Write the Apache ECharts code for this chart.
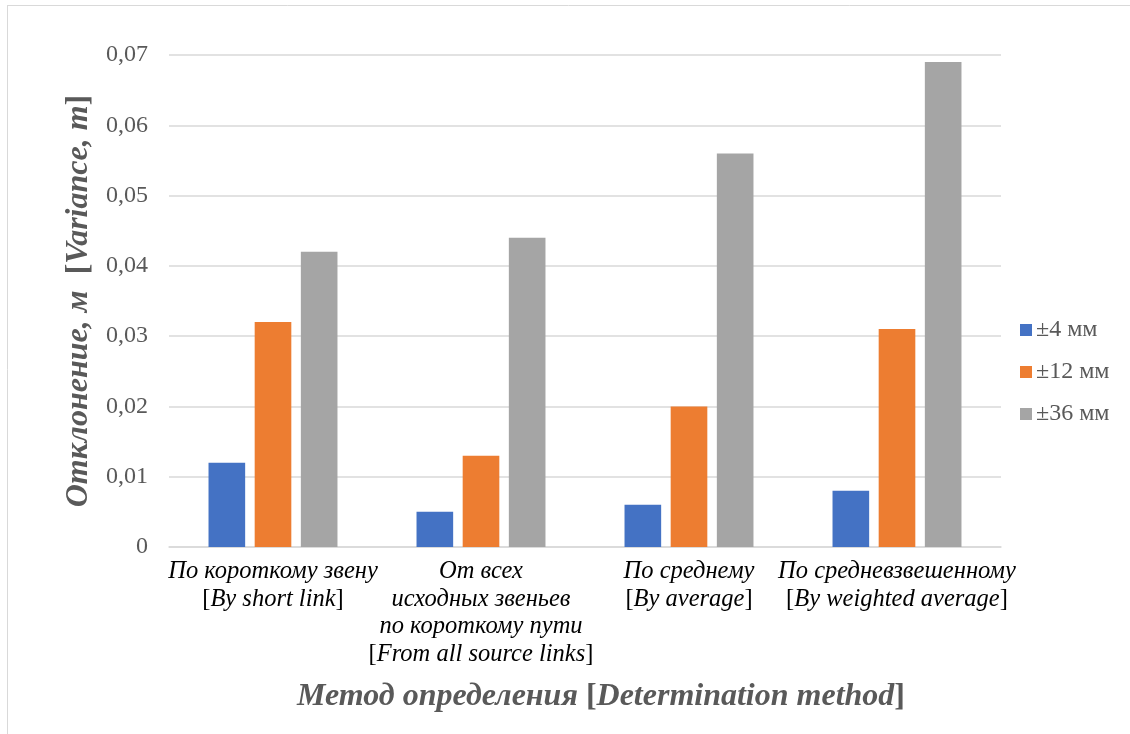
<!DOCTYPE html>
<html>
<head>
<meta charset="utf-8">
<script src="https://cdn.jsdelivr.net/npm/echarts@6/dist/echarts.min.js"></script>
<style>
  html, body { margin: 0; padding: 0; background: #fff; }
  #chart { width: 1130px; height: 734px; }
</style>
</head>
<body>
<div id="chart"></div>
<script>
// Method names: Russian lines (italic) and English gloss (in brackets)
const categoryRu = [
  ['По короткому звену'],
  ['От всех', 'исходных звеньев', 'по короткому пути'],
  ['По среднему'],
  ['По средневзвешенному']
];
const categoryEn = ['By short link', 'From all source links', 'By average', 'By weighted average'];

const seriesNames = ['±4 мм', '±12 мм', '±36 мм'];
const values4 = [0.012, 0.005, 0.006, 0.008];
const values12 = [0.032, 0.013, 0.020, 0.031];
const values36 = [0.042, 0.044, 0.056, 0.069];

const colors = ['#4472C4', '#ED7D31', '#A5A5A5'];
const serif = '"Liberation Serif", "DejaVu Serif", serif';
const grey = '#595959';

const categories = categoryRu.map((_, i) => String(i));

const chart = echarts.init(document.getElementById('chart'));

chart.setOption({
  animation: false,
  backgroundColor: '#fff',
  color: colors,
  graphic: [
    { type: 'line', shape: { x1: 7, y1: 5.5, x2: 1130, y2: 5.5 }, style: { stroke: '#d9d9d9', lineWidth: 1 } },
    { type: 'line', shape: { x1: 7.5, y1: 5, x2: 7.5, y2: 734 }, style: { stroke: '#d9d9d9', lineWidth: 1 } }
  ],
  grid: { left: 169, right: 129, top: 55, bottom: 187 },
  legend: {
    orient: 'vertical',
    left: 1015,
    top: 313,
    itemWidth: 12,
    itemHeight: 12,
    itemGap: 18,
    icon: 'rect',
    data: seriesNames,
    textStyle: { fontFamily: serif, fontSize: 24, color: grey, padding: [0, 0, 0, -1] }
  },
  xAxis: {
    type: 'category',
    data: categories,
    axisLine: { lineStyle: { color: '#d9d9d9', width: 1.5 } },
    axisTick: { show: false },
    axisLabel: {
      interval: 0,
      margin: 11,
      color: '#000',
      formatter: (v) => {
        const i = Number(v);
        const lines = categoryRu[i].map(s => '{i|' + s + '}');
        lines.push('{u|[}{i|' + categoryEn[i] + '}{u|]}');
        return lines.join('\n');
      },
      rich: {
        i: { fontFamily: serif, fontStyle: 'italic', fontSize: 24.5, color: '#000', lineHeight: 27.5 },
        u: { fontFamily: serif, fontSize: 24.5, color: '#000', lineHeight: 27.5 }
      }
    },
    name: '{bi|Метод определения }{b|[}{bi|Determination method}{b|]}',
    nameLocation: 'middle',
    nameGap: 134,
    nameTextStyle: {
      padding: [0, 0, 0, 32],
      rich: {
        bi: { fontFamily: serif, fontStyle: 'italic', fontWeight: 'bold', fontSize: 32, color: grey },
        b: { fontFamily: serif, fontWeight: 'bold', fontSize: 32, color: grey }
      }
    }
  },
  yAxis: {
    type: 'value',
    min: 0,
    max: 0.07,
    interval: 0.01,
    axisLine: { show: false },
    axisTick: { show: false },
    splitLine: { lineStyle: { color: '#d9d9d9', width: 1.5 } },
    axisLabel: {
      margin: 21,
      fontFamily: serif,
      fontSize: 24,
      color: grey,
      formatter: (v) => v === 0 ? '0' : v.toFixed(2).replace('.', ',')
    },
    name: '{bi|Отклонение, м  }{b|[}{bi|Variance, m}{b|]}',
    nameLocation: 'middle',
    nameRotate: 90,
    nameGap: 69,
    nameTextStyle: {
      rich: {
        bi: { fontFamily: serif, fontStyle: 'italic', fontWeight: 'bold', fontSize: 32, color: grey },
        b: { fontFamily: serif, fontWeight: 'bold', fontSize: 32, color: grey }
      }
    }
  },
  series: [
    { name: seriesNames[0], type: 'bar', data: values4, barGap: '26%', barCategoryGap: '38%' },
    { name: seriesNames[1], type: 'bar', data: values12, barGap: '26%', barCategoryGap: '38%' },
    { name: seriesNames[2], type: 'bar', data: values36, barGap: '26%', barCategoryGap: '38%' }
  ]
});
</script>
</body>
</html>
